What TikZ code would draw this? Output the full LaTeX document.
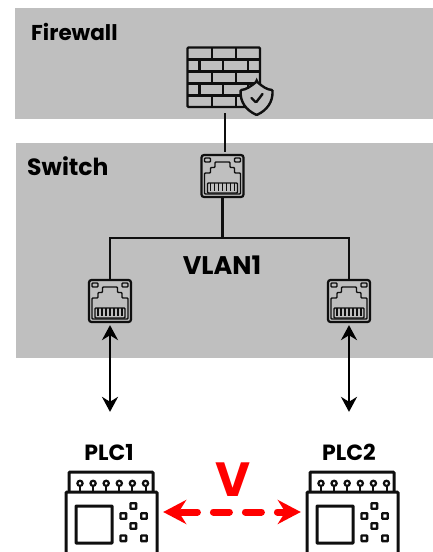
\documentclass[tikz,border=0pt]{standalone}
\usepackage{fontspec}
\setmainfont{Poppins}
\usetikzlibrary{arrows.meta,positioning}
\definecolor{band}{RGB}{191,191,191}
\definecolor{ink}{RGB}{15,15,15}
\definecolor{alert}{RGB}{255,0,0}
\tikzset{
  zone/.style={fill=band,inner sep=0pt,outer sep=0pt,anchor=north west},
  title/.style={inner sep=0pt,font=\fontsize{21.5}{21.5}\bfseries,text=black},
  bigtitle/.style={title,font=\fontsize{23.5}{23.5}\bfseries},
  plcname/.style={title,font=\fontsize{22}{22}\bfseries},
  portbox/.style={draw=ink,line width=2.2pt,rounded corners=2.5pt,minimum size=42pt,inner sep=0pt},
  plcbox/.style={draw=none,minimum width=91pt,minimum height=72pt,inner sep=0pt},
  wire/.style={line width=2.4pt,draw=ink},
  arr/.style={{Stealth[length=15pt,width=16pt]}-{Stealth[length=15pt,width=16pt]},line width=2.6pt,black},
  vlink/.style={{Stealth[length=23pt,width=24pt]}-{Stealth[length=23pt,width=24pt]},line width=7pt,alert,
    line cap=round,dash pattern=on 16pt off 16pt,dash phase=28pt},
  rjport/.pic={
    \node[portbox] (box) at (0,0) {};
    \foreach \ledx in {-15,15}
      \draw[ink,line width=1.4pt,rounded corners=.8pt] (\ledx-3,-18) rectangle (\ledx+3,-14);
    \draw[ink,line width=1.4pt,rounded corners=.8pt] (-18,18) -- (-18,-3) -- (-12,-3) -- (-12,-8.5)
      -- (-7.5,-8.5) -- (-7.5,-14) -- (7.5,-14) -- (7.5,-8.5) -- (12,-8.5) -- (12,-3) -- (18,-3) -- (18,18) -- cycle;
    \draw[ink,line width=1.4pt,rounded corners=.8pt] (-15,7) rectangle (15,17);
    \foreach \pinx in {-12,-8,...,12}
      \draw[ink,line width=1.2pt] (\pinx,7) -- (\pinx,14.5);
  },
  plcunit/.pic={
    \node[plcbox] (box) at (0,0) {};
    \draw[ink,line width=3pt,rounded corners=1pt] (-42.5,-36.5) -- (-42.5,-56) -- (41.5,-56) -- (41.5,-36.5);
    \draw[ink,line width=3pt,rounded corners=1pt] (-45.5,36) -- (-45.5,-36) -- (45.5,-36) -- (45.5,36);
    \draw[ink,line width=3pt,rounded corners=.5pt] (-35.5,-22) rectangle (.5,15);
    \foreach \i in {0,...,5} {
      \draw[ink,line width=2.2pt] (-31.5+13.1*\i,-44.7) circle (2.6);
      \draw[ink,line width=2pt] (-31.5+13.1*\i,-42) -- (-31.5+13.1*\i,-36.5);
    }
    \foreach \bx/\by in {21.8/-22,11.8/-12,32.5/-12,21.8/-2,11.8/10.3,32.5/10.3}
      \draw[ink,line width=2.3pt,rounded corners=.5pt] (\bx-2.8,\by-2.8) rectangle (\bx+2.8,\by+2.8);
  },
}
\begin{document}
\begin{tikzpicture}[x=1pt,y=-1pt]
  \useasboundingbox (0,0) rectangle (433,552);
  \clip (0,0) rectangle (433,552);
  \node[zone,minimum width=418pt,minimum height=111pt] (fwzone) at (15,8) {};
  \node[zone,minimum width=417pt,minimum height=215pt] (swzone) at (16,143) {};
  \node[title,anchor=west] (fwtitle) at (31,32) {Firewall};
  \node[bigtitle,anchor=west] (swtitle) at (27,166) {Switch};

  \node[minimum width=73pt,minimum height=66pt,inner sep=0pt] (fwall) at (225,80) {};
  \begin{scope}[ink,line width=2.4pt,rounded corners=1pt]
    \draw (187.5,47.5) rectangle (260,107);
    \foreach \rowy in {59.5,71.5,83.5,95.5}
      \draw (187.5,\rowy) -- (260,\rowy);
    \foreach \rowy in {47.5,71.5,95.5} {
      \draw (212,\rowy) -- (212,\rowy+12);
      \draw (236,\rowy) -- (236,\rowy+12);
    }
    \foreach \rowy in {59.5,83.5} {
      \draw (199.5,\rowy) -- (199.5,\rowy+12);
      \draw (223,\rowy) -- (223,\rowy+12);
      \draw (248,\rowy) -- (248,\rowy+12);
    }
    \fill[band,draw=ink] (256.7,81.5) .. controls (250,87) and (246,89.5) .. (240.7,90)
      .. controls (240,102) and (246,110) .. (256.7,115)
      .. controls (267,110) and (273,102) .. (272.5,90)
      .. controls (267,89.5) and (263,87) .. (256.7,81.5) -- cycle;
    \draw[line cap=round] (251.5,98) -- (256,102.5) -- (262.5,94);
  \end{scope}

  \pic (up) at (222.5,176) {rjport};
  \pic (lp) at (110,301) {rjport};
  \pic (rp) at (349,301) {rjport};
  \coordinate (bus) at (222.5,238);
  \draw[wire,shorten >=2pt] (fwall.south) -- (fwall.south |- upbox.north);
  \draw[wire] (upbox.south) -- (bus);
  \draw[wire] (lpbox.north) |- (bus) -| (rpbox.north);
  \node[bigtitle,font=\fontsize{25.5}{25.5}\bfseries] (vlan) at (222,265) {VLAN1};

  \pic (plcl) at (111.5,528) {plcunit};
  \pic (plcr) at (352.5,528) {plcunit};
  \node[plcname,above=39.5pt of plclbox.north,xshift=-2.5pt,anchor=center] (plclname) {PLC1};
  \node[plcname,above=39.5pt of plcrbox.north,xshift=-3.5pt,anchor=center] (plcrname) {PLC2};

  \coordinate[below=133pt of lpbox.north] (lpend);
  \coordinate[below=133pt of rpbox.north] (rpend);
  \draw[arr,shorten <=2pt] (lpbox.south) -- (lpend);
  \draw[arr,shorten <=2pt] (rpbox.south) -- (rpend);
  \draw[vlink,shorten <=6pt,shorten >=6pt] ([yshift=16pt]plclbox.east) -- ([yshift=16pt]plcrbox.west);
  \node[inner sep=0pt,text=alert,font=\fontsize{48}{48}\bfseries] (vmark) at (233,480) {V};
\end{tikzpicture}
\end{document}
